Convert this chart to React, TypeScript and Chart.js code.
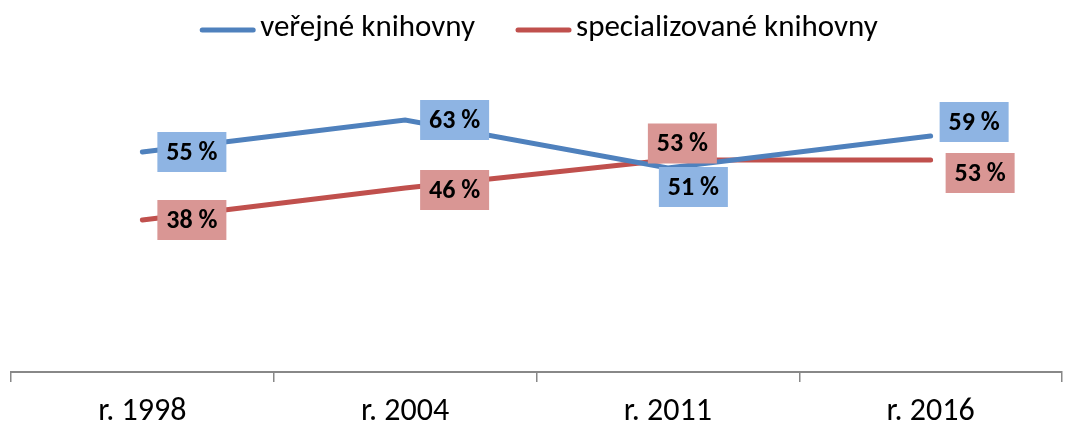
import React, { useEffect, useRef } from "react";
import { Chart, registerables } from "chart.js";

Chart.register(...registerables);

const categories = ["r. 1998", "r. 2004", "r. 2011", "r. 2016"];
const seriesNames = ["veřejné knihovny", "specializované knihovny"];
const publicLibraries = [55, 63, 51, 59];
const specialLibraries = [38, 46, 53, 53];

// label box offsets from the point (px)
const publicLabelOffsets = [[49.5, 0], [49.5, 0], [25.5, 19], [43.5, -14]];
const specialLabelOffsets = [[49.5, 0], [49.5, 2], [14.5, -16.5], [49.5, 13]];

const FONT = "Carlito, Calibri, Lato, 'Liberation Sans', sans-serif";
const BLUE = "#4F81BD";
const RED = "#C0504D";
const BLUE_BOX = "#8EB4E3";
const RED_BOX = "#D99694";
const LEGEND_SIZE = 31;
const TICK_SIZE = 32;
const LABEL_SIZE = 26;

const labelPlugin = {
  id: "boxLabels",
  afterDatasetsDraw(chart: any) {
    const ctx = chart.ctx;
    ctx.save();
    chart.data.datasets.forEach((ds: any, di: number) => {
      const meta = chart.getDatasetMeta(di);
      meta.data.forEach((pt: any, i: number) => {
        const [dx, dy] = ds.labelOffsets[i];
        const text = ds.data[i] + " %";
        ctx.font = `bold ${LABEL_SIZE}px ${FONT}`;
        const tw = ctx.measureText(text).width;
        const w = Math.max(69, tw + 16);
        const h = 40;
        const cx = pt.x + dx;
        const cy = pt.y + dy;
        ctx.fillStyle = ds.labelBg;
        ctx.fillRect(cx - w / 2, cy - h / 2, w, h);
        ctx.fillStyle = "#000";
        ctx.textAlign = "center";
        ctx.textBaseline = "middle";
        ctx.fillText(text, cx, cy + 1);
      });
    });
    ctx.restore();
  },
};

const legendPlugin = {
  id: "customLegend",
  afterDraw(chart: any) {
    const ctx = chart.ctx;
    ctx.save();
    ctx.font = `${LEGEND_SIZE}px ${FONT}`;
    const sw = 55;
    const gapText = 5;
    const gapItem = 41;
    const items = chart.data.datasets.map((ds: any) => ({
      label: ds.label,
      color: ds.borderColor,
      w: ctx.measureText(ds.label).width,
    }));
    const total = items.reduce((s: number, it: any) => s + sw + gapText + it.w, 0) + gapItem * (items.length - 1);
    let x = 539 - total / 2;
    const y = 30;
    items.forEach((it: any) => {
      ctx.strokeStyle = it.color;
      ctx.lineWidth = 5;
      ctx.lineCap = "round";
      ctx.beginPath();
      ctx.moveTo(x + 2, y);
      ctx.lineTo(x + sw - 2, y);
      ctx.stroke();
      ctx.fillStyle = "#000";
      ctx.textAlign = "left";
      ctx.textBaseline = "middle";
      ctx.fillText(it.label, x + sw + gapText, y - 2);
      x += sw + gapText + it.w + gapItem;
    });
    ctx.restore();
  },
};

export default function App() {
  const ref = useRef<HTMLCanvasElement>(null);
  useEffect(() => {
    if (!ref.current) return;
    const chart = new Chart(ref.current, {
      type: "line",
      data: {
        labels: categories,
        datasets: [
          {
            label: seriesNames[0],
            data: publicLibraries,
            borderColor: BLUE,
            backgroundColor: BLUE,
            borderWidth: 5,
            borderCapStyle: "round",
            pointRadius: 0,
            tension: 0,
            labelOffsets: publicLabelOffsets,
            labelBg: BLUE_BOX,
          } as any,
          {
            label: seriesNames[1],
            data: specialLibraries,
            borderColor: RED,
            backgroundColor: RED,
            borderWidth: 5,
            borderCapStyle: "round",
            pointRadius: 0,
            tension: 0,
            labelOffsets: specialLabelOffsets,
            labelBg: RED_BOX,
          } as any,
        ],
      },
      options: {
        responsive: false,
        animation: false,
        devicePixelRatio: 1,
        layout: { padding: { top: 92, left: 11, right: 6, bottom: 0 } },
        plugins: {
          legend: { display: false },
          tooltip: { enabled: false },
        },
        scales: {
          x: {
            offset: true,
            grid: {
              offset: true,
              drawOnChartArea: false,
              drawTicks: true,
              tickLength: 10,
              color: "#888888",
              lineWidth: 1.5,
            },
            border: { display: true, color: "#888888", width: 2 },
            ticks: {
              color: "#000",
              font: { family: FONT, size: TICK_SIZE },
              padding: 11,
              maxRotation: 0,
            },
            afterFit(scale: any) {
              scale.height = 53;
            },
          },
          y: {
            display: false,
            min: 0,
            max: 70,
          },
        },
      },
      plugins: [labelPlugin, legendPlugin],
    });
    return () => chart.destroy();
  }, []);
  return (
    <div style={{ position: "absolute", left: 0, top: 0, width: 1068, height: 425, background: "#fff" }}>
      <canvas ref={ref} width={1068} height={425} />
    </div>
  );
}
